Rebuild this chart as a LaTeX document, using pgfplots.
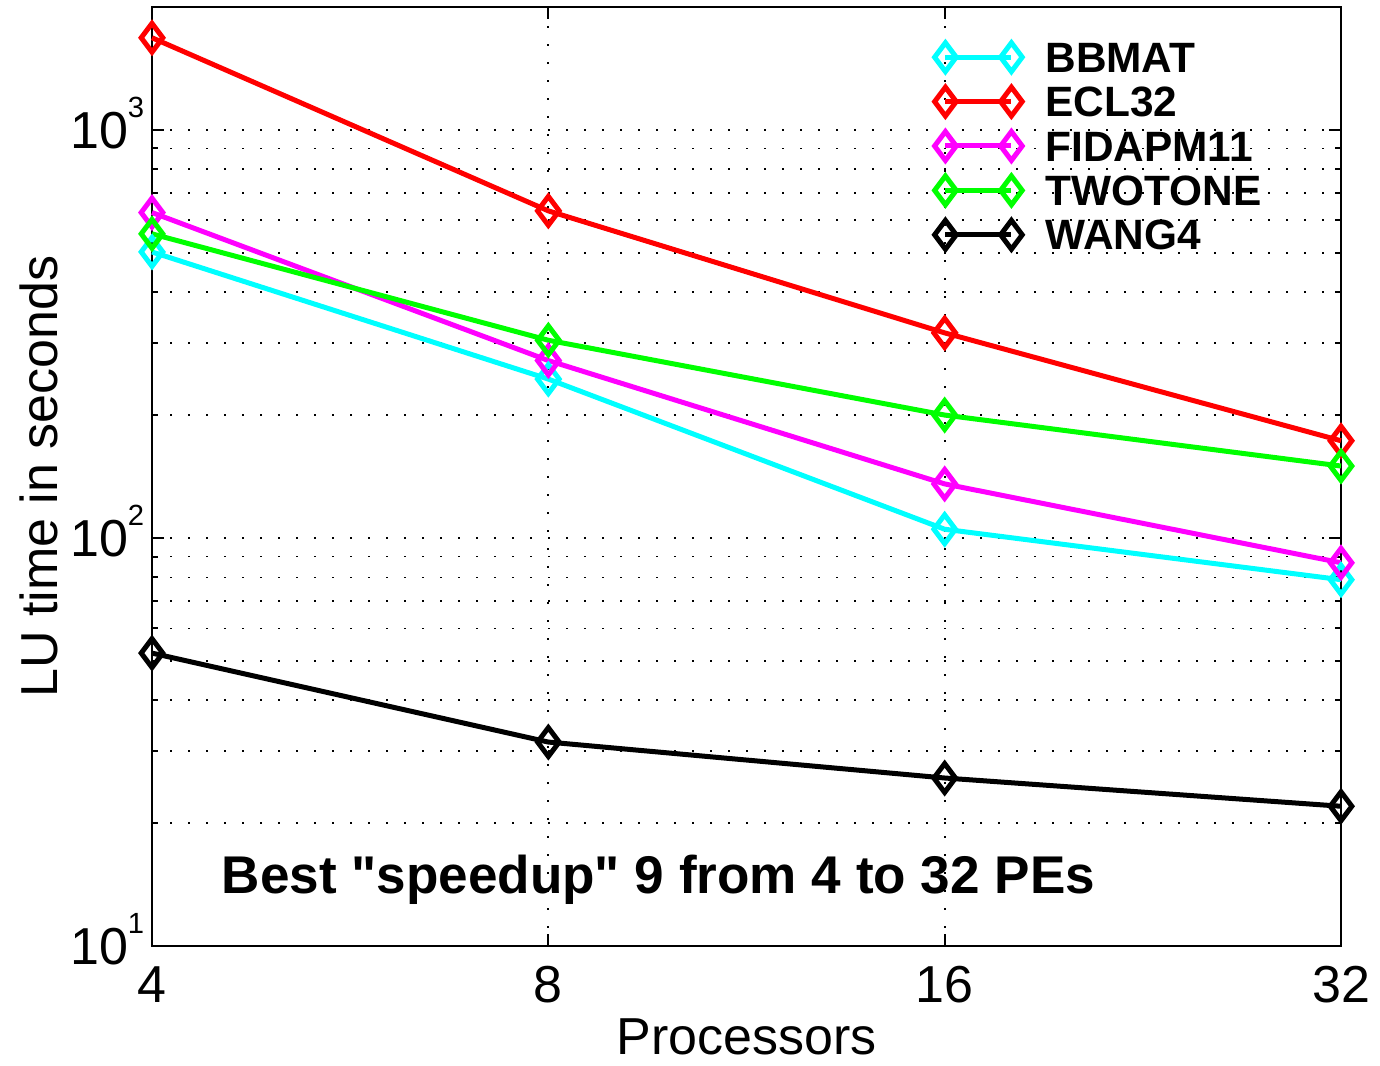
\documentclass[border=0pt]{standalone}
\usepackage{pgfplots}
\pgfplotsset{compat=1.18}
\usepackage{fontspec}
\setmainfont{Liberation Sans}[Ligatures=TeXOff]
\definecolor{mcyan}{rgb}{0,1,1}
\definecolor{mred}{rgb}{1,0,0}
\definecolor{mmag}{rgb}{1,0,1}
\definecolor{mgreen}{rgb}{0,1,0}
\newcommand{\tlab}[1]{10\raisebox{7.75pt}{\fontsize{7.3}{7.3}\selectfont #1}}
\begin{document}
\begin{tikzpicture}
\begin{axis}[
  scale only axis, width=297.25pt, height=234.75pt,
  xmode=log, log basis x=2, ymode=log,
  xmin=4, xmax=32, ymin=10, ymax=2000,
  xtick={4,8,16,32}, xticklabels={4,8,16,32}, minor xtick={},
  ytick={10,100,1000}, yticklabels={\tlab{1},\tlab{2},\tlab{3}},
  minor ytick={20,30,40,50,60,70,80,90,200,300,400,500,600,700,800,900},
  ymajorgrids, yminorgrids, xmajorgrids,
  major grid style={black, line width=0.45pt, dash pattern=on 0.5pt off 4pt},
  minor grid style={black, line width=0.45pt, dash pattern=on 0.5pt off 4pt},
  tick align=inside,
  major tick length=3pt, minor tick length=1.5pt,
  axis line style={black, line width=0.7pt},
  every tick/.style={black, line width=0.5pt},
  ticklabel style={font=\fontsize{13}{13}\selectfont},
  xticklabel style={anchor=base, inner sep=0pt, yshift=-14.25pt},
  yticklabel style={anchor=base east, inner sep=0pt, xshift=-1.75pt, yshift=-4.75pt},
  clip=false,
  every axis plot/.append style={line width=1.25pt, mark=diamond, mark size=3.6pt, mark options={solid}},
  legend image code/.code={\draw[#1] plot coordinates {(0pt,0pt) (16.5pt,0pt)};},
  legend style={draw=none, fill=none, at={(rel axis cs:0.6582,0.9627)}, anchor=north west,
    inner sep=0pt, outer sep=0pt, row sep=3.5pt, column sep=5.8pt,
    font=\fontsize{10.6}{10.6}\selectfont\bfseries,
    nodes={inner sep=0pt, text height=7.6pt, text depth=0pt}},
  legend cell align=left,
]
\addplot[mcyan] coordinates {(4,502) (8,245) (16,105) (32,79)};
\addlegendentry{BBMAT}
\addplot[mred] coordinates {(4,1681) (8,633) (16,318) (32,173)};
\addlegendentry{ECL32}
\addplot[mmag] coordinates {(4,627) (8,272) (16,135.6) (32,86.9)};
\addlegendentry{FIDAPM11}
\addplot[mgreen] coordinates {(4,556) (8,305) (16,200) (32,150)};
\addlegendentry{TWOTONE}
\addplot[black] coordinates {(4,52.2) (8,31.6) (16,25.8) (32,22.0)};
\addlegendentry{WANG4}
\node[anchor=base west, inner sep=0pt, font=\fontsize{13.27}{13.27}\selectfont\bfseries] at (rel axis cs:0.058,0.0564) {Best "speedup" 9 from 4 to 32 PEs};
\node[anchor=base, inner sep=0pt, font=\fontsize{13}{13}\selectfont] at ([yshift=-27.25pt]rel axis cs:0.5,0) {Processors};
\node[anchor=base, rotate=90, inner sep=0pt, font=\fontsize{13}{13}\selectfont] at ([xshift=-23.75pt]rel axis cs:0,0.5) {LU time in seconds};
\end{axis}
\path ([xshift=-38pt,yshift=-30pt]current axis.south west) rectangle ([xshift=9.75pt,yshift=1.75pt]current axis.north east);
\end{tikzpicture}
\end{document}
